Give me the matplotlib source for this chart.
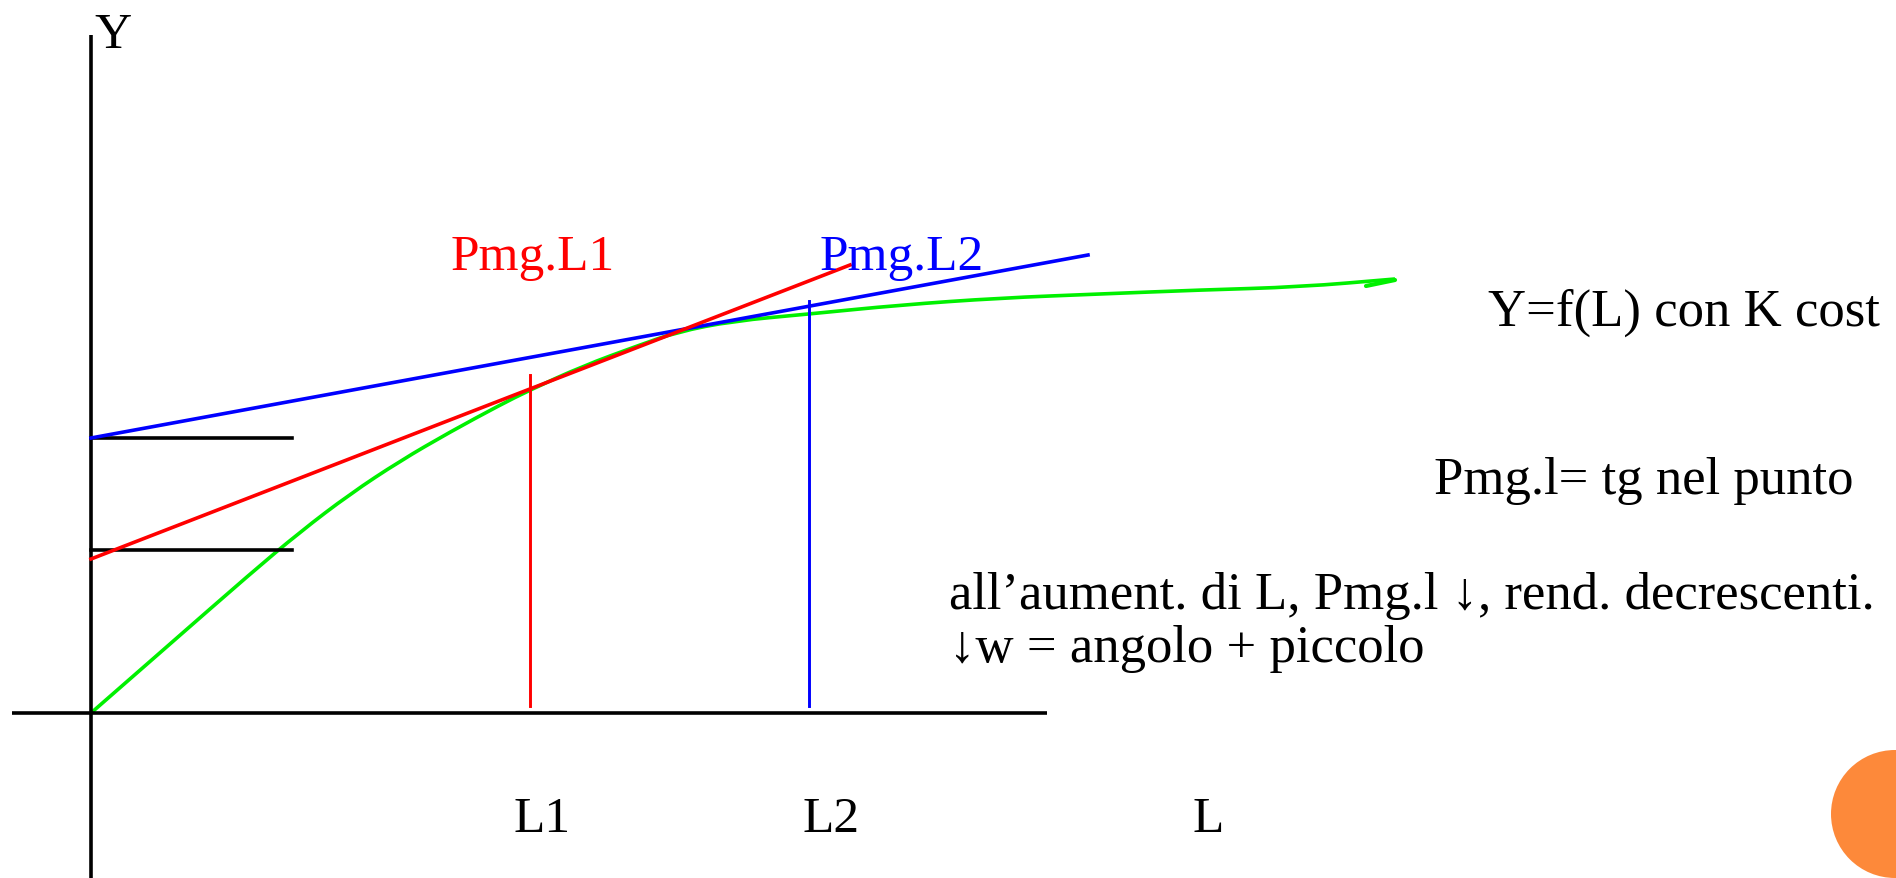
"""Production function Y=f(L) with tangents Pmg.L1 / Pmg.L2 (slide diagram)."""
import matplotlib
matplotlib.use("Agg")
import matplotlib.pyplot as plt
from matplotlib.patches import Circle, PathPatch
from matplotlib.path import Path

SERIF = ["Liberation Serif", "DejaVu Serif"]
GREEN = "#00f000"
RED = "#ff0000"
BLUE = "#0000ff"
ORANGE = "#fd893a"

# data units: 1 unit = 1 px, origin at the axes crossing
curve_L = [0, 79, 159, 209, 259, 309, 359, 409, 439, 492, 546, 586,
           642, 718, 809, 909, 1009, 1109, 1209, 1304]
curve_Y = [0, 69, 139, 181, 219, 252, 281, 308, 323, 347, 367, 381,
           392, 399, 408, 415, 419, 423, 426, 434]
hook_L = [1304, 1275]
hook_Y = [433, 427]

tan1_L = [0, 759]        # Pmg.L1 tangent
tan1_Y = [154, 448]
tan2_L = [0, 997]        # Pmg.L2 tangent
tan2_Y = [275, 458]

L1, L2 = 439, 718
L1_top, L2_top = 338, 412
intercepts = [275, 163]
intercept_len = 201

x_axis = (-79, 956)
y_axis = (-165, 678)

LW = 2.6

fig = plt.figure(figsize=(18.96, 8.79), dpi=100)
ax = fig.add_axes([0, 0, 1, 1])
ax.set_xlim(-91, 1805)
ax.set_ylim(-165, 714)
ax.axis("off")

# axes
ax.plot(x_axis, [0, 0], color="black", lw=LW, solid_capstyle="butt")
ax.plot([0, 0], y_axis, color="black", lw=LW, solid_capstyle="butt")
for y in intercepts:
    ax.plot([0, intercept_len], [y, y], color="black", lw=LW)

# tangents
ax.plot(tan2_L, tan2_Y, color=BLUE, lw=LW)
ax.plot(tan1_L, tan1_Y, color=RED, lw=LW)

# curve: smooth path through midpoints, read points as quadratic controls
pts = list(zip(curve_L, curve_Y))
verts, codes = [pts[0]], [Path.MOVETO]
for i in range(1, len(pts) - 1):
    mid = ((pts[i][0] + pts[i + 1][0]) / 2, (pts[i][1] + pts[i + 1][1]) / 2)
    verts += [pts[i], mid]
    codes += [Path.CURVE3, Path.CURVE3]
verts.append(pts[-1])
codes.append(Path.LINETO)
ax.add_patch(PathPatch(Path(verts, codes), fill=False, edgecolor=GREEN, lw=LW))
ax.plot(hook_L, hook_Y, color=GREEN, lw=3.0, solid_capstyle="round")

# verticals at L1, L2
ax.plot([L1, L1], [7, L1_top], color=RED, lw=2.1)
ax.plot([L2, L2], [7, L2_top], color=BLUE, lw=2.1)

fs = 37
ax.text(3, 702, "Y", fontsize=fs, family=SERIF, ha="left", va="top")
ax.text(360, 444, "Pmg.L1", color=RED, fontsize=fs, family=SERIF, va="baseline")
ax.text(729, 444, "Pmg.L2", color=BLUE, fontsize=fs, family=SERIF, va="baseline")
for lab, x in (("L1", 451), ("L2", 740), ("L", 1117)):
    ax.text(x, -106, lab, fontsize=fs, family=SERIF, ha="center", va="center")

fs2 = 38
ax.text(1789, 401, "Y=f(L) con K cost", fontsize=fs2, family=SERIF,
        ha="right", va="center")
ax.text(1343, 233, "Pmg.l= tg nel punto", fontsize=fs2, family=SERIF,
        ha="left", va="center")
ax.text(858, 118, "all’aument. di L, Pmg.l ↓, rend. decrescenti.", fontsize=fs2,
        family=SERIF, ha="left", va="center")
ax.text(858, 65, "↓w = angolo + piccolo", fontsize=fs2, family=SERIF,
        ha="left", va="center")

ax.add_patch(Circle((1804, -101), 64, color=ORANGE, lw=0))

fig.savefig("out.png", dpi=100)
